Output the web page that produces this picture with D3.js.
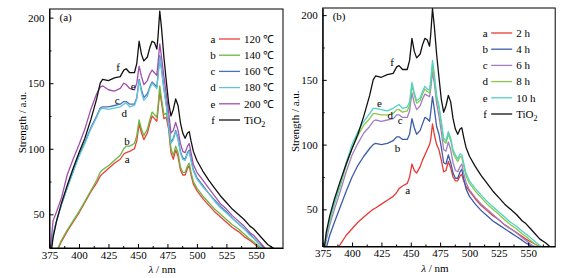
<!DOCTYPE html>
<html lang="en">
<head>
<meta charset="UTF-8">
<script src="https://d3js.org/d3.v7.min.js"></script>
<title>Emission spectra</title>
<style>
    body { margin: 0; background: #fff; }
    svg { display: block; }
    svg text { font-family: "Liberation Serif", "Times New Roman", serif; font-size: 11px; }
</style>
</head>
<body>
<svg id="chart" width="587" height="278"></svg>
<script>
// wavelength grid (nm) shared by all curves
const wavelength = [375, 378, 381, 385, 390, 395, 400, 405, 410, 415, 418, 420, 425, 430, 435, 438, 440, 443, 447, 449,
    451, 453, 455, 458, 460, 462, 464, 466, 467, 468.5, 470, 472, 474, 476, 478, 480, 482, 484, 486, 488,
    490, 492, 493.5, 495, 497, 500, 505, 510, 515, 520, 525, 530, 535, 540, 545, 548, 552, 556, 560, 565, 570];

// pure TiO2 (same curve in both panels)
const tio2 = [10, 32, 45, 58, 72, 85, 97, 108, 122, 138, 150, 153, 152, 154, 155, 160, 161, 158, 158, 165,
    182, 172, 167, 170, 177, 182, 181, 176, 185, 205, 192, 170, 152, 135, 125, 130, 138, 133, 120, 112,
    108, 112, 113, 106, 98, 91, 83, 76, 70, 64, 59, 54, 50, 46, 41, 39, 35, 31, 27, 24, 20];

// (a) hydrothermal temperature
const tempLabels = ["120 \u2103", "140 \u2103", "160 \u2103", "180 \u2103", "200 \u2103"];
const temp120 = [3, 8, 21, 29, 37, 44, 51, 59, 67, 74, 79, 81, 85, 89, 92, 96, 97, 98, 100, 106,
    119, 112, 107, 112, 119, 125, 123, 121, 129, 144, 135, 123, 124, 115, 97, 92, 99, 94, 84, 80,
    80, 85, 87, 80, 73, 68, 62, 57, 52, 48, 44, 40, 37, 33, 30, 28, 25, 22, 18, 14, 11];
const temp140 = [5, 10, 22, 30, 38, 45, 52, 60, 68, 76, 82, 84, 87, 91, 95, 100, 102, 102, 104, 110,
    122, 115, 110, 115, 122, 128, 126, 124, 132, 148, 138, 126, 127, 118, 100, 95, 102, 97, 86, 82,
    82, 87, 89, 82, 75, 70, 64, 59, 54, 50, 46, 42, 39, 35, 31, 29, 26, 23, 19, 15, 12];
const temp160 = [17, 34, 45, 57, 70, 83, 95, 105, 116, 125, 131, 132, 132, 133, 134, 136, 136, 134, 134, 139,
    153, 145, 139, 142, 147, 151, 149, 147, 156, 171, 161, 146, 134, 119, 105, 108, 114, 108, 98, 93,
    92, 97, 99, 92, 84, 78, 72, 66, 61, 56, 52, 47, 43, 39, 35, 32, 28, 25, 21, 17, 14];
const temp180 = [18, 35, 45, 57, 70, 82, 94, 104, 115, 124, 130, 131, 130, 131, 132, 134, 135, 132, 133, 138,
    152, 143, 137, 140, 146, 150, 148, 146, 155, 170, 160, 145, 133, 118, 104, 107, 113, 107, 97, 92,
    91, 96, 98, 91, 83, 77, 71, 66, 60, 55, 51, 47, 43, 39, 34, 32, 28, 24, 21, 17, 14];
const temp200 = [15, 45, 52, 62, 80, 92, 103, 115, 130, 142, 147, 148, 145, 144, 146, 150, 149, 146, 145, 150,
    163, 155, 149, 152, 157, 160, 158, 156, 165, 180, 170, 155, 142, 128, 112, 114, 120, 114, 104, 98,
    97, 102, 104, 97, 88, 82, 76, 70, 64, 58, 54, 49, 45, 41, 36, 34, 30, 26, 22, 18, 15];

// (b) reaction time
const timeLabels = ["2 h", "4 h", "6 h", "8 h", "10 h"];
const time2h = [5, 8, 12, 17, 23, 30, 35, 40, 44, 48, 50, 51, 54, 57, 60, 63, 66, 68, 70, 75,
    85, 80, 78, 83, 88, 92, 96, 100, 104, 116, 108, 100, 96, 88, 79, 80, 87, 82, 75, 72,
    72, 76, 77, 72, 68, 64, 58, 53, 49, 45, 42, 38, 35, 32, 29, 27, 25, 23, 21, 18, 15];
const time4h = [8, 20, 30, 40, 52, 64, 75, 84, 91, 97, 100, 101, 100, 101, 103, 106, 106, 104, 104, 108,
    120, 113, 108, 111, 116, 121, 120, 118, 125, 137, 128, 114, 108, 98, 86, 85, 92, 86, 78, 74,
    74, 79, 81, 74, 66, 60, 54, 49, 45, 41, 38, 35, 32, 29, 26, 24, 22, 20, 17, 14, 11];
const time6h = [8, 26, 38, 50, 64, 79, 92, 101, 109, 114, 118, 119, 118, 119, 120, 123, 123, 121, 121, 126,
    140, 132, 127, 130, 135, 139, 138, 137, 143, 156, 148, 132, 122, 110, 96, 95, 102, 96, 86, 80,
    79, 83, 85, 78, 71, 65, 59, 54, 50, 46, 42, 38, 35, 32, 28, 26, 23, 21, 18, 15, 12];
const time8h = [10, 29, 41, 54, 68, 84, 97, 107, 115, 120, 124, 124, 123, 123, 124, 127, 127, 125, 126, 130,
    146, 138, 132, 134, 139, 143, 141, 140, 147, 161, 152, 136, 128, 116, 103, 101, 108, 103, 94, 90,
    87, 91, 90, 84, 76, 70, 64, 59, 54, 50, 46, 42, 38, 35, 31, 29, 26, 23, 20, 17, 14];
const time10h = [10, 30, 42, 55, 70, 86, 100, 110, 118, 124, 128, 128, 127, 126, 128, 130, 131, 128, 129, 133,
    148, 140, 134, 136, 141, 145, 143, 142, 150, 165, 155, 138, 130, 118, 105, 103, 110, 105, 96, 92,
    89, 93, 92, 86, 78, 72, 66, 61, 56, 52, 48, 44, 40, 37, 33, 31, 28, 25, 22, 19, 16];

const letters = ["a", "b", "c", "d", "e", "f"];

// curve letters placed beside the curves: [nm, strength]
const notesA = [[440.8, 92], [440.8, 106], [432.3, 137], [438.3, 127], [445.9, 148], [433.2, 162]];
const notesB = [[447.4, 65], [438.8, 97], [441.1, 119], [432.6, 123], [423.4, 132], [434.0, 164]];

const svg = d3.select("#chart");

drawPanel({
    left: 49.5, top: 9, width: 233.5, height: 239,
    yDomain: [24.3, 206.6], tag: "(a)",
    series: [temp120, temp140, temp160, temp180, temp200, tio2],
    labels: tempLabels.concat(["TiO"]),
    colors: ["#e8413c", "#6db640", "#4b6fb8", "#5ec6d6", "#a04fae", "#111"],
    notes: notesA,
    legendY: 30
});

drawPanel({
    left: 322.7, top: 8, width: 232.5, height: 238.5,
    yDomain: [21.3, 205.5], tag: "(b)",
    series: [time2h, time4h, time6h, time8h, time10h, tio2],
    labels: timeLabels.concat(["TiO"]),
    colors: ["#e53a35", "#3b5cab", "#a27fc2", "#8cc84a", "#4fd2c8", "#111"],
    notes: notesB,
    legendY: 25
});

function drawPanel(p) {
    const g = svg.append("g").attr("transform", `translate(${p.left},${p.top})`);
    const clipId = "clip" + p.tag.replace(/\W/g, "");

    const x = d3.scaleLinear().domain([375, 573]).range([0, p.width]);
    const y = d3.scaleLinear().domain(p.yDomain).range([p.height, 0]);

    g.append("clipPath").attr("id", clipId)
        .append("rect").attr("width", p.width).attr("height", p.height);

    const line = d3.line()
        .x((d, i) => x(wavelength[i]))
        .y(d => y(d));

    g.append("g").attr("clip-path", `url(#${clipId})`)
        .selectAll("path")
        .data(p.series)
        .join("path")
        .attr("d", line)
        .attr("fill", "none")
        .attr("stroke", (d, i) => p.colors[i])
        .attr("stroke-width", 1.3)
        .attr("stroke-linejoin", "round");

    // axes with inward ticks, minor ticks half length
    const xMajor = d3.range(375, 573, 25);
    const xMinor = d3.range(387.5, 573, 25);
    g.append("g").attr("transform", `translate(0,${p.height})`)
        .call(d3.axisBottom(x).tickValues(xMajor).tickSizeInner(-4).tickSizeOuter(0).tickPadding(3));
    g.append("g").attr("transform", `translate(0,${p.height})`)
        .call(d3.axisBottom(x).tickValues(xMinor).tickSize(-2).tickFormat(""))
        .select(".domain").remove();

    g.append("g")
        .call(d3.axisLeft(y).tickValues([50, 100, 150, 200]).tickSizeInner(-4).tickSizeOuter(0).tickPadding(5));
    g.append("g")
        .call(d3.axisLeft(y).tickValues([75, 125, 175]).tickSize(-2).tickFormat(""))
        .select(".domain").remove();

    // frame
    g.append("rect").attr("width", p.width).attr("height", p.height)
        .attr("fill", "none").attr("stroke", "#000").attr("stroke-width", 1);

    g.append("text").attr("x", 10).attr("y", 12).text(p.tag);

    g.append("text")
        .attr("x", p.width / 2 - 4).attr("y", p.height + 25)
        .attr("text-anchor", "middle")
        .html('<tspan font-style="italic">\u03bb</tspan> / nm');

    g.append("text")
        .attr("transform", `translate(-24,${p.height / 2 - 6}) rotate(-90)`)
        .attr("text-anchor", "middle")
        .text("Strength / a.u.");

    // letters next to curves
    g.selectAll(".note")
        .data(p.notes)
        .join("text")
        .attr("class", "note")
        .attr("x", d => x(d[0])).attr("y", d => y(d[1]))
        .attr("text-anchor", "middle").attr("dy", "0.35em")
        .text((d, i) => letters[i]);

    // legend
    const leg = g.append("g").attr("transform", `translate(${p.width - 70},${p.legendY})`);
    const rows = leg.selectAll("g")
        .data(p.labels)
        .join("g")
        .attr("transform", (d, i) => `translate(0,${i * 16.2})`);
    rows.append("text").attr("x", 0).attr("dy", "0.35em")
        .attr("text-anchor", "middle")
        .text((d, i) => letters[i]);
    rows.append("line").attr("x1", 6).attr("x2", 27)
        .attr("stroke", (d, i) => p.colors[i]).attr("stroke-width", 1.3);
    const lt = rows.append("text").attr("x", 31).attr("dy", "0.35em")
        .text(d => d);
    lt.filter((d, i) => i === 5).append("tspan")
        .style("font-size", "8px").attr("dy", "0.35em").text("2");
}
</script>
</body>
</html>
